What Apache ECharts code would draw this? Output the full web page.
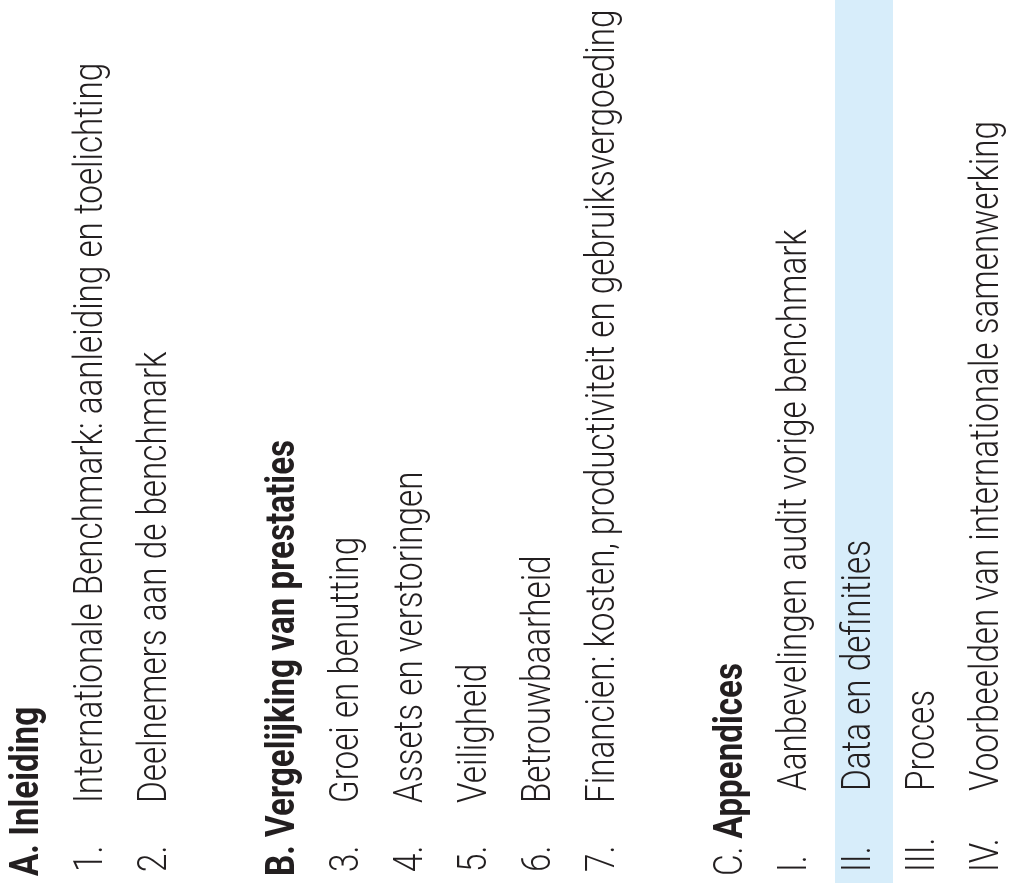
<!DOCTYPE html>
<html>
<head>
<meta charset="utf-8">
<script src="https://cdn.jsdelivr.net/npm/echarts@6/dist/echarts.min.js"></script>
<style>
html,body{margin:0;padding:0;background:#fff;}
#chart{width:1010px;height:893px;}
</style>
</head>
<body>
<div id="chart"></div>
<script>
// ---- data ----
const headingPrefixes = ['A.', 'B.', 'C.'];
const headingTitles = ['Inleiding', 'Vergelijking van prestaties', 'Appendices'];
const headingPrefixBold = [true, true, false];
const sectionNumbers = [['1.', '2.'], ['3.', '4.', '5.', '6.', '7.'], ['I.', 'II.', 'III.', 'IV.']];
const sectionItems = [
  ['Internationale Benchmark: aanleiding en toelichting', 'Deelnemers aan de benchmark'],
  ['Groei en benutting', 'Assets en verstoringen', 'Veiligheid', 'Betrouwbaarheid',
   'Financien: kosten, productiviteit en gebruiksvergoeding'],
  ['Aanbevelingen audit vorige benchmark', 'Data en definities', 'Proces',
   'Voorbeelden van internationale samenwerking']
];
const highlightedItem = 'Data en definities';

// ---- build rows ----
const rows = [];
let r = 0;
headingTitles.forEach(function (t, s) {
  rows.push({ row: r++, kind: 'heading', num: headingPrefixes[s], text: t, bold: headingPrefixBold[s] });
  sectionItems[s].forEach(function (it, i) {
    rows.push({ row: r++, kind: s === 2 ? 'roman' : 'item', num: sectionNumbers[s][i], text: it });
  });
  r++; // blank line between sections
});
const hlRow = rows.find(function (d) { return d.text === highlightedItem; }).row;

const TEXT_COLOR = '#231f20';
const LIGHT = '300 41px Roboto';
const BOLD = 'bold 41px Roboto';
const SX = 0.81;
const SXB = 0.81;

const chart = echarts.init(document.getElementById('chart'), null, { renderer: 'canvas' });
chart.setOption({
  animation: false,
  grid: { left: 0, right: 0, top: 0, bottom: 0 },
  xAxis: { type: 'value', min: -0.4375, max: 15.34375, show: false },
  yAxis: { type: 'value', min: 0, max: 1, show: false },
  series: [
    {
      type: 'custom',
      data: [[hlRow]],
      renderItem: function (params, api) {
        const c = api.coord([api.value(0), 0]);
        return { type: 'rect', shape: { x: c[0] - 25, y: 0, width: 58, height: 883 },
                 style: { fill: '#d7edfa' } };
      },
      silent: true, z: 1
    },
    {
      type: 'custom',
      data: rows.map(function (d) { return [d.row]; }),
      renderItem: function (params, api) {
        const d = rows[params.dataIndex];
        const c = api.coord([api.value(0), 0]);
        const x = c[0];
        if (d.kind === 'heading') {
          return {
            type: 'text', x: x, y: 876, rotation: Math.PI / 2, scaleX: SXB,
            style: {
              text: '{p|' + d.num + ' }{b|' + d.text + '}',
              align: 'left', verticalAlign: 'middle',
              rich: {
                p: { font: d.bold ? BOLD : LIGHT, fill: TEXT_COLOR },
                b: { font: BOLD, fill: TEXT_COLOR }
              }
            }
          };
        }
        return {
          type: 'group',
          children: [
            { type: 'text', x: x, y: 872, rotation: Math.PI / 2, scaleX: SX,
              style: { text: d.num, font: LIGHT, fill: TEXT_COLOR, align: 'left', verticalAlign: 'middle' } },
            { type: 'text', x: x, y: d.kind === 'roman' ? 791 : 803, rotation: Math.PI / 2, scaleX: SX,
              style: { text: d.text, font: LIGHT, fill: TEXT_COLOR, align: 'left', verticalAlign: 'middle' } }
          ]
        };
      },
      silent: true, z: 2
    }
  ]
});
</script>
</body>
</html>
